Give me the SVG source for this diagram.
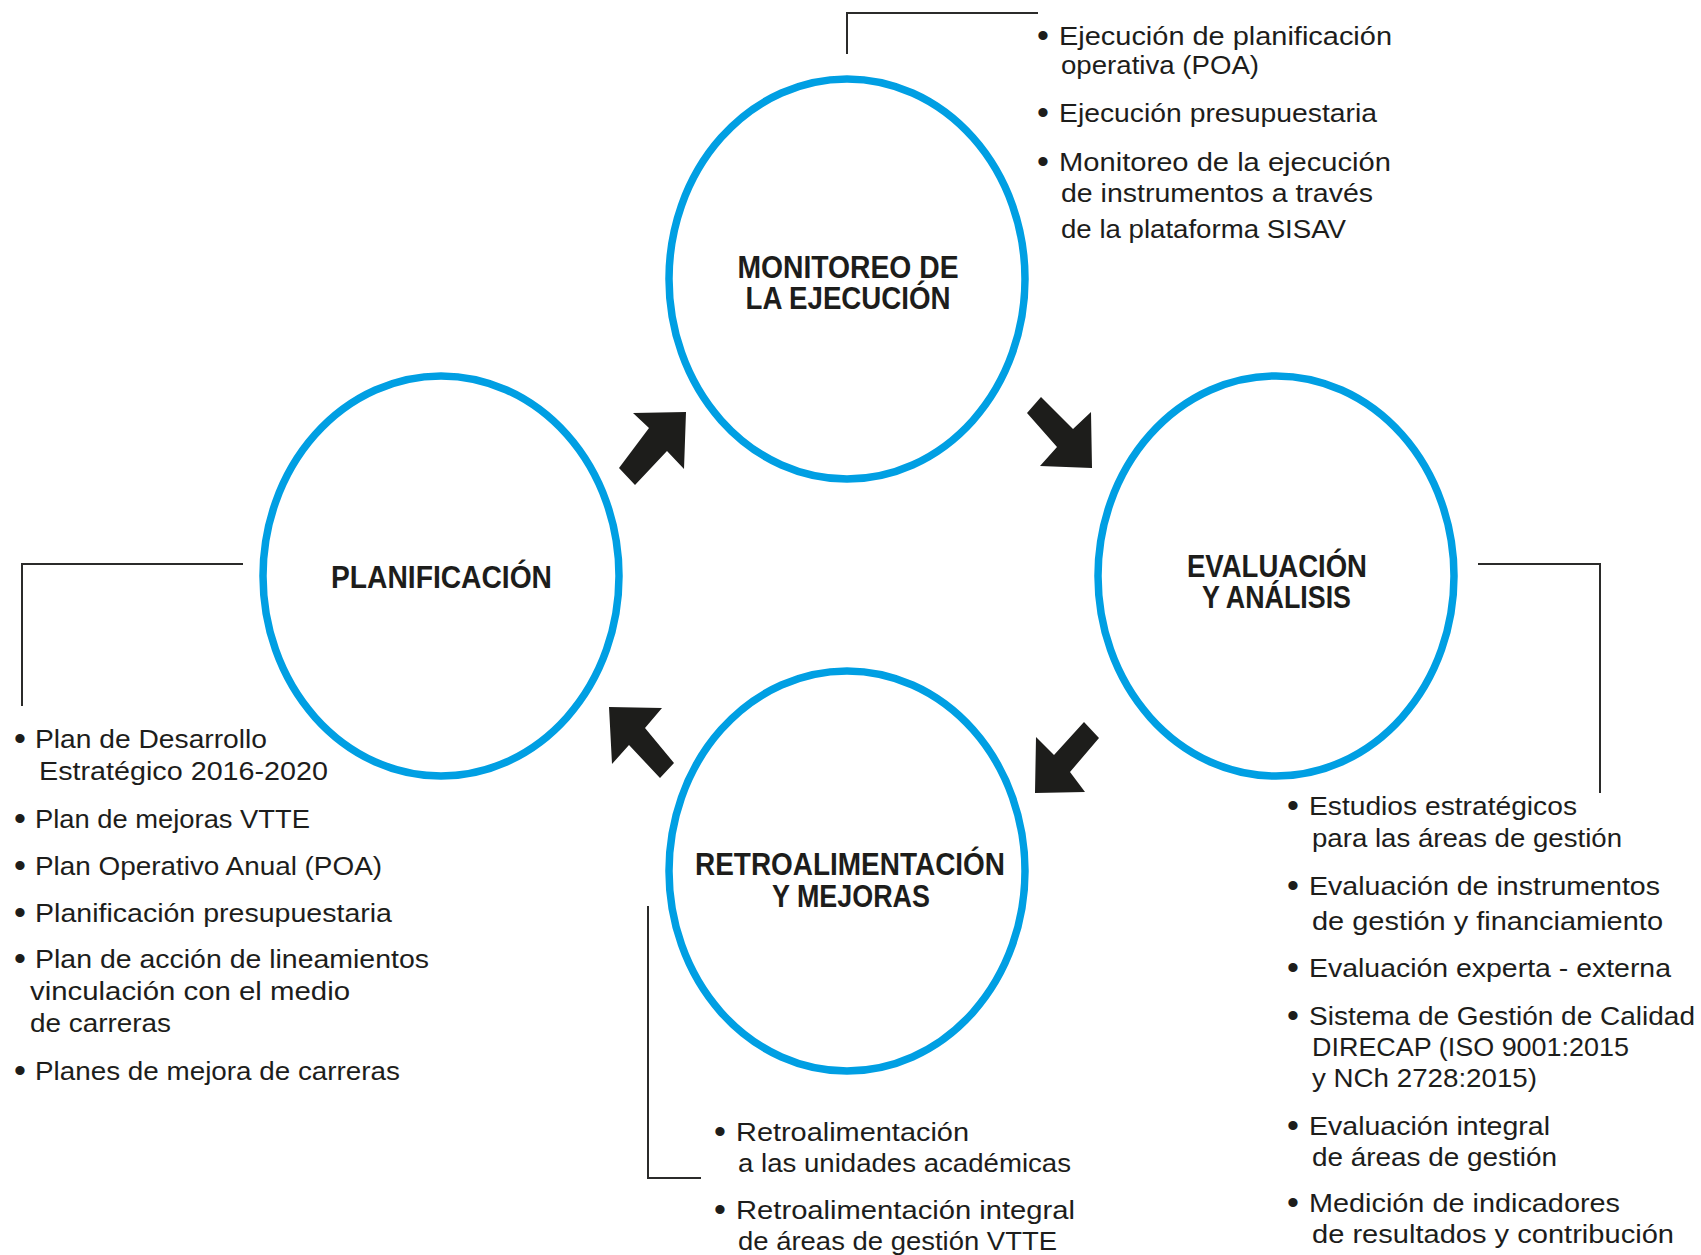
<svg xmlns="http://www.w3.org/2000/svg" width="1701" height="1255" viewBox="0 0 1701 1255">
<style>
.ring{fill:#ffffff;stroke:#009fe3;stroke-width:7.5}
.head{font-family:"Liberation Sans",Arial,sans-serif;font-weight:bold;font-size:32px;fill:#1d1d1b;text-anchor:middle}
.t{font-family:"Liberation Sans",Arial,sans-serif;font-size:26px;fill:#1d1d1b}
.b{font-family:"Liberation Sans",Arial,sans-serif;font-size:34px;fill:#1d1d1b;text-anchor:middle}
.br{fill:none;stroke:#2b2b2a;stroke-width:2}
.arr{fill:#1d1d1b}
</style>
<rect width="1701" height="1255" fill="#ffffff"/>

<g id="connectors">
  <polygon class="arr" points="686,412 684,469 667,451 635,485 619,468 649,428 633,413"/>
  <polygon class="arr" points="1041,397 1073,429 1091,412 1092,468 1040,466 1057,447 1027,413"/>
  <polygon class="arr" points="1084,722 1099,738 1070,772 1085,792 1035,793 1036,737 1054,755"/>
  <polygon class="arr" points="609,707 662,708 645,728 674,763 660,778 629,745 612,764"/>
</g>

<g id="node-monitoreo">
  <ellipse class="ring" cx="847" cy="279" rx="178" ry="200"/>
  <text class="head" x="848" y="278" textLength="221" lengthAdjust="spacingAndGlyphs">MONITOREO DE</text>
  <text class="head" x="848" y="309" textLength="205" lengthAdjust="spacingAndGlyphs">LA EJECUCIÓN</text>
</g>
<g id="node-planificacion">
  <ellipse class="ring" cx="441" cy="576" rx="178" ry="200"/>
  <text class="head" x="441.5" y="588" textLength="221" lengthAdjust="spacingAndGlyphs">PLANIFICACIÓN</text>
</g>
<g id="node-evaluacion">
  <ellipse class="ring" cx="1276" cy="576" rx="178" ry="200"/>
  <text class="head" x="1277" y="577" textLength="180" lengthAdjust="spacingAndGlyphs">EVALUACIÓN</text>
  <text class="head" x="1276.5" y="608" textLength="149" lengthAdjust="spacingAndGlyphs">Y ANÁLISIS</text>
</g>
<g id="node-retroalimentacion">
  <ellipse class="ring" cx="847" cy="871" rx="178" ry="200"/>
  <text class="head" x="850" y="875" textLength="310" lengthAdjust="spacingAndGlyphs">RETROALIMENTACIÓN</text>
  <text class="head" x="851" y="907" textLength="158" lengthAdjust="spacingAndGlyphs">Y MEJORAS</text>
</g>

<g id="list-monitoreo">
  <polyline class="br" points="847,54 847,13 1038,13"/>
  <text class="b" x="1043" y="47">•</text>
  <text class="t" x="1059" y="45" textLength="333" lengthAdjust="spacingAndGlyphs">Ejecución de planificación</text>
  <text class="t" x="1061" y="74" textLength="198" lengthAdjust="spacingAndGlyphs">operativa (POA)</text>
  <text class="b" x="1043" y="124">•</text>
  <text class="t" x="1059" y="122" textLength="318" lengthAdjust="spacingAndGlyphs">Ejecución presupuestaria</text>
  <text class="b" x="1043" y="173">•</text>
  <text class="t" x="1059" y="171" textLength="332" lengthAdjust="spacingAndGlyphs">Monitoreo de la ejecución</text>
  <text class="t" x="1061" y="202" textLength="312" lengthAdjust="spacingAndGlyphs">de instrumentos a través</text>
  <text class="t" x="1061" y="238" textLength="285" lengthAdjust="spacingAndGlyphs">de la plataforma SISAV</text>
</g>

<g id="list-planificacion">
  <polyline class="br" points="243,564 22,564 22,706"/>
  <text class="b" x="20" y="750">•</text>
  <text class="t" x="35" y="748" textLength="232" lengthAdjust="spacingAndGlyphs">Plan de Desarrollo</text>
  <text class="t" x="39" y="780" textLength="289" lengthAdjust="spacingAndGlyphs">Estratégico 2016-2020</text>
  <text class="b" x="20" y="830">•</text>
  <text class="t" x="35" y="828" textLength="275" lengthAdjust="spacingAndGlyphs">Plan de mejoras VTTE</text>
  <text class="b" x="20" y="877">•</text>
  <text class="t" x="35" y="875" textLength="347" lengthAdjust="spacingAndGlyphs">Plan Operativo Anual (POA)</text>
  <text class="b" x="20" y="924">•</text>
  <text class="t" x="35" y="922" textLength="357" lengthAdjust="spacingAndGlyphs">Planificación presupuestaria</text>
  <text class="b" x="20" y="970">•</text>
  <text class="t" x="35" y="968" textLength="394" lengthAdjust="spacingAndGlyphs">Plan de acción de lineamientos</text>
  <text class="t" x="30" y="1000" textLength="320" lengthAdjust="spacingAndGlyphs">vinculación con el medio</text>
  <text class="t" x="30" y="1032" textLength="141" lengthAdjust="spacingAndGlyphs">de carreras</text>
  <text class="b" x="20" y="1082">•</text>
  <text class="t" x="35" y="1080" textLength="365" lengthAdjust="spacingAndGlyphs">Planes de mejora de carreras</text>
</g>

<g id="list-evaluacion">
  <polyline class="br" points="1478,564 1600,564 1600,793"/>
  <text class="b" x="1293" y="817">•</text>
  <text class="t" x="1309" y="815" textLength="268" lengthAdjust="spacingAndGlyphs">Estudios estratégicos</text>
  <text class="t" x="1312" y="847" textLength="310" lengthAdjust="spacingAndGlyphs">para las áreas de gestión</text>
  <text class="b" x="1293" y="897">•</text>
  <text class="t" x="1309" y="895" textLength="351" lengthAdjust="spacingAndGlyphs">Evaluación de instrumentos</text>
  <text class="t" x="1312" y="930" textLength="351" lengthAdjust="spacingAndGlyphs">de gestión y financiamiento</text>
  <text class="b" x="1293" y="979">•</text>
  <text class="t" x="1309" y="977" textLength="362" lengthAdjust="spacingAndGlyphs">Evaluación experta - externa</text>
  <text class="b" x="1293" y="1027">•</text>
  <text class="t" x="1309" y="1025" textLength="386" lengthAdjust="spacingAndGlyphs">Sistema de Gestión de Calidad</text>
  <text class="t" x="1312" y="1056" textLength="317" lengthAdjust="spacingAndGlyphs">DIRECAP (ISO 9001:2015</text>
  <text class="t" x="1312" y="1087" textLength="225" lengthAdjust="spacingAndGlyphs">y NCh 2728:2015)</text>
  <text class="b" x="1293" y="1137">•</text>
  <text class="t" x="1309" y="1135" textLength="241" lengthAdjust="spacingAndGlyphs">Evaluación integral</text>
  <text class="t" x="1312" y="1166" textLength="245" lengthAdjust="spacingAndGlyphs">de áreas de gestión</text>
  <text class="b" x="1293" y="1214">•</text>
  <text class="t" x="1309" y="1212" textLength="311" lengthAdjust="spacingAndGlyphs">Medición de indicadores</text>
  <text class="t" x="1312" y="1243" textLength="362" lengthAdjust="spacingAndGlyphs">de resultados y contribución</text>
</g>

<g id="list-retroalimentacion">
  <polyline class="br" points="648,906 648,1178 701,1178"/>
  <text class="b" x="720" y="1143">•</text>
  <text class="t" x="736" y="1141" textLength="233" lengthAdjust="spacingAndGlyphs">Retroalimentación</text>
  <text class="t" x="738" y="1172" textLength="333" lengthAdjust="spacingAndGlyphs">a las unidades académicas</text>
  <text class="b" x="720" y="1221">•</text>
  <text class="t" x="736" y="1219" textLength="339" lengthAdjust="spacingAndGlyphs">Retroalimentación integral</text>
  <text class="t" x="738" y="1250" textLength="319" lengthAdjust="spacingAndGlyphs">de áreas de gestión VTTE</text>
</g>
</svg>
